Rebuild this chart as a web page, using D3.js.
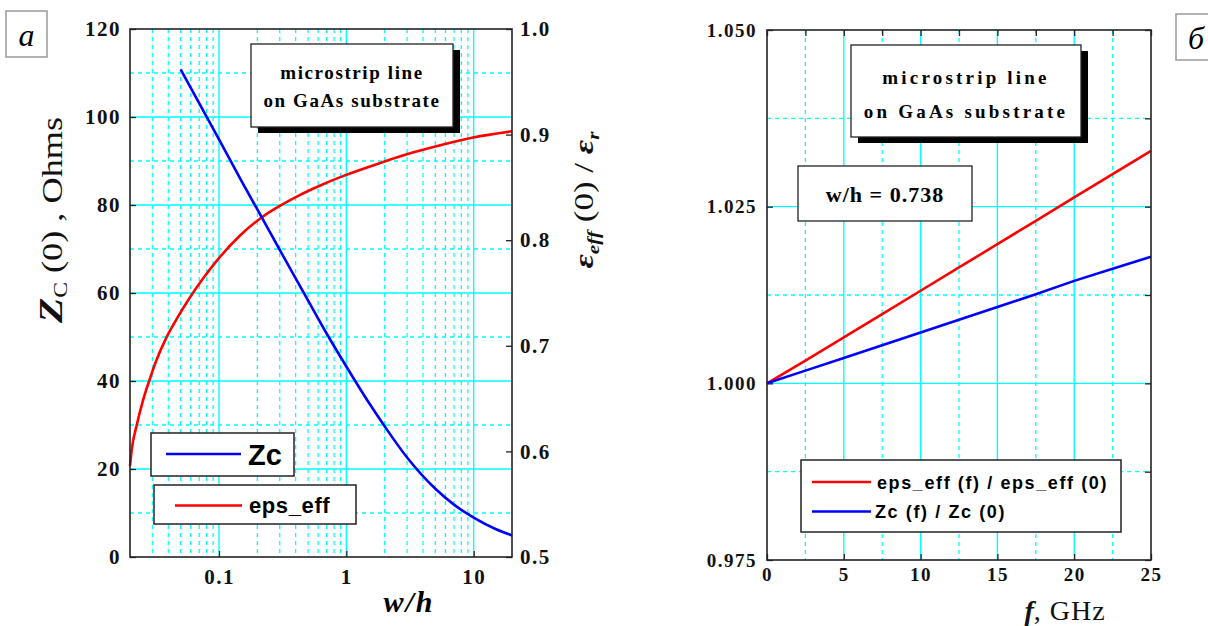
<!DOCTYPE html>
<html>
<head>
<meta charset="utf-8">
<script src="https://cdn.jsdelivr.net/npm/d3@7"></script>
<style>
  body { margin: 0; background: #fff; }
  svg { display: block; }
</style>
</head>
<body>
<svg id="chart" width="1208" height="626"></svg>
<script>
// ---- panel a: Zc(0) and eps_eff(0)/eps_r vs w/h ----
const whZc = [0.05, 0.07, 0.1, 0.15, 0.2, 0.3, 0.4, 0.5, 0.7, 1, 1.5, 2, 3, 5, 7, 10, 15, 20];
const zcValues = [110.8, 103.1, 94.9, 85.5, 79.0, 69.8, 63.3, 58.3, 50.8, 43.3, 35.1, 29.7, 22.6, 15.5, 11.9, 8.95, 6.3, 4.9];
const whEps = [0.02, 0.0206, 0.0226, 0.0254, 0.0287, 0.0323, 0.0387, 0.0463, 0.0589, 0.0727, 0.0952, 0.145, 0.219, 0.3, 0.426, 0.65, 0.986, 1.8, 3.27, 5.96, 9.9, 20];
const epsRatio = [0.586, 0.601, 0.625, 0.649, 0.669, 0.6865, 0.708, 0.725, 0.7455, 0.7616, 0.780, 0.804, 0.822, 0.8324, 0.8425, 0.8528, 0.8616, 0.8727, 0.8827, 0.8912, 0.8973, 0.9031];

const zcTicks = [0, 20, 40, 60, 80, 100, 120];
const zcMinor = [10, 30, 50, 70, 90, 110];
const ratioTicks = [0.5, 0.6, 0.7, 0.8, 0.9, 1.0];
const whTicks = [0.1, 1, 10];
const whMinor = [0.03, 0.04, 0.05, 0.06, 0.07, 0.08, 0.09, 0.2, 0.3, 0.4, 0.5, 0.6, 0.7, 0.8, 0.9, 2, 3, 4, 5, 6, 7, 8, 9];

// ---- panel b: dispersion vs frequency ----
const freq = [0, 2.5, 5, 7.5, 10, 12.5, 15, 17.5, 20, 22.5, 25];
const epsNorm = [1.0, 1.0032, 1.0065, 1.0098, 1.0131, 1.0164, 1.0197, 1.0230, 1.0263, 1.0296, 1.0329];
const zcNorm = [1.0, 1.0018, 1.0036, 1.0054, 1.0072, 1.0090, 1.0108, 1.0126, 1.0145, 1.0162, 1.0179];

const normTicks = [0.975, 1.000, 1.025, 1.050];
const normMinor = [0.9875, 1.0125, 1.0375];
const fTicks = [0, 5, 10, 15, 20, 25];
const fMinor = [2.5, 7.5, 12.5, 17.5, 22.5];

const CYAN = '#00ffff';
const RED = '#ff0000';
const BLUE = '#0000ff';
const SERIF = '"Liberation Serif", "Times New Roman", serif';
const SANS = '"Liberation Sans", Arial, sans-serif';

const svg = d3.select('#chart');

function drawGrid(g, x, y, xMajor, xMinor, yMajor, yMinor) {
    const [x0, x1] = x.range();
    const [y1, y0] = y.range();
    const dash = '4,4';
    g.selectAll(null).data(xMinor).join('line')
        .attr('x1', d => x(d)).attr('x2', d => x(d)).attr('y1', y0).attr('y2', y1)
        .attr('stroke', CYAN).attr('stroke-width', 1.3).attr('stroke-dasharray', dash);
    g.selectAll(null).data(yMinor).join('line')
        .attr('y1', d => y(d)).attr('y2', d => y(d)).attr('x1', x0).attr('x2', x1)
        .attr('stroke', CYAN).attr('stroke-width', 1.3).attr('stroke-dasharray', dash);
    g.selectAll(null).data(xMajor).join('line')
        .attr('x1', d => x(d)).attr('x2', d => x(d)).attr('y1', y0).attr('y2', y1)
        .attr('stroke', CYAN).attr('stroke-width', 1.4);
    g.selectAll(null).data(yMajor).join('line')
        .attr('y1', d => y(d)).attr('y2', d => y(d)).attr('x1', x0).attr('x2', x1)
        .attr('stroke', CYAN).attr('stroke-width', 1.4);
}

function styleAxis(g, size, ls) {
    g.select('.domain').remove();
    g.selectAll('.tick line').attr('stroke', '#222').attr('stroke-width', 1.3);
    g.selectAll('.tick text')
        .attr('fill', '#111')
        .style('font-family', SERIF)
        .style('font-weight', 'bold')
        .style('font-size', size + 'px')
        .style('letter-spacing', ls + 'px');
}

function frame(g, x, y) {
    const [x0, x1] = x.range();
    const [y1, y0] = y.range();
    g.append('rect').attr('x', x0).attr('y', y0).attr('width', x1 - x0).attr('height', y1 - y0)
        .attr('fill', 'none').attr('stroke', '#222').attr('stroke-width', 1.6);
}

function titleBox(g, bx, by, bw, bh, lines, lineYs, size, ls) {
    g.append('rect').attr('x', bx + 7).attr('y', by + 6).attr('width', bw).attr('height', bh).attr('fill', '#000');
    g.append('rect').attr('x', bx).attr('y', by).attr('width', bw).attr('height', bh)
        .attr('fill', '#fff').attr('stroke', '#222').attr('stroke-width', 1.3);
    lines.forEach((t, i) => {
        g.append('text').attr('x', bx + bw / 2).attr('y', lineYs[i])
            .attr('text-anchor', 'middle').attr('dominant-baseline', 'central')
            .style('font-family', SERIF).style('font-weight', 'bold')
            .style('font-size', size + 'px').style('letter-spacing', ls + 'px')
            .text(t);
    });
}

function letterBox(g, bx, by, bw, bh, letter) {
    g.append('rect').attr('x', bx).attr('y', by).attr('width', bw).attr('height', bh)
        .attr('fill', '#fff').attr('stroke', '#999').attr('stroke-width', 1.5);
    g.append('text').attr('x', bx + bw / 2).attr('y', by + bh / 2 + 1)
        .attr('text-anchor', 'middle').attr('dominant-baseline', 'central')
        .style('font-family', SERIF).style('font-style', 'italic').style('font-size', '32px')
        .text(letter);
}

// ================= panel a =================
const ga = svg.append('g');
const xA = d3.scaleLog().domain([0.02, 20]).range([130, 512]);
const yZc = d3.scaleLinear().domain([0, 120]).range([557, 29]);
const yRatio = d3.scaleLinear().domain([0.5, 1.0]).range([557, 29]);

drawGrid(ga, xA, yZc, whTicks, whMinor, zcTicks.slice(1, -1), zcMinor);

ga.append('g').attr('transform', 'translate(130,0)')
    .call(d3.axisLeft(yZc).tickValues(zcTicks).tickSize(-6).tickPadding(9))
    .call(g => styleAxis(g, 21, 1.5));
ga.append('g').attr('transform', 'translate(512,0)')
    .call(d3.axisRight(yRatio).tickValues(ratioTicks).tickSize(-6).tickPadding(8).tickFormat(d3.format('.1f')))
    .call(g => styleAxis(g, 21, 1.5));
ga.append('g').attr('transform', 'translate(0,557)')
    .call(d3.axisBottom(xA).tickValues(whTicks).tickSize(-6).tickPadding(12).tickFormat(d3.format('~g')))
    .call(g => styleAxis(g, 21, 1.5));

const lineZc = d3.line().x((d, i) => xA(whZc[i])).y(d => yZc(d)).curve(d3.curveMonotoneX);
const lineEps = d3.line().x((d, i) => xA(whEps[i])).y(d => yRatio(d)).curve(d3.curveMonotoneX);
ga.append('path').datum(epsRatio).attr('d', lineEps).attr('fill', 'none').attr('stroke', RED).attr('stroke-width', 2.6);
ga.append('path').datum(zcValues).attr('d', lineZc).attr('fill', 'none').attr('stroke', BLUE).attr('stroke-width', 2.6);

frame(ga, xA, yZc);

titleBox(ga, 251, 44, 202, 83, ['microstrip line', 'on GaAs substrate'], [72, 100], 19, 1.6);

// legend boxes
ga.append('rect').attr('x', 151).attr('y', 433).attr('width', 143).attr('height', 43)
    .attr('fill', '#fff').attr('stroke', '#222').attr('stroke-width', 1.5);
ga.append('line').attr('x1', 166).attr('x2', 241).attr('y1', 454).attr('y2', 454).attr('stroke', BLUE).attr('stroke-width', 2.6);
ga.append('text').attr('x', 248).attr('y', 465).style('font-family', SANS).style('font-weight', 'bold')
    .style('font-size', '29px').text('Zc');
ga.append('rect').attr('x', 154).attr('y', 485).attr('width', 202).attr('height', 39)
    .attr('fill', '#fff').attr('stroke', '#222').attr('stroke-width', 1.5);
ga.append('line').attr('x1', 175).attr('x2', 242).attr('y1', 505.5).attr('y2', 505.5).attr('stroke', RED).attr('stroke-width', 2.6);
ga.append('text').attr('x', 249).attr('y', 513).style('font-family', SANS).style('font-weight', 'bold')
    .style('font-size', '22px').style('letter-spacing', '0.6px').text('eps_eff');

letterBox(ga, 6, 11, 41, 46, 'а');

// axis titles
const yLabA = ga.append('text').attr('transform', 'translate(62,220) rotate(-90) scale(1.25,1)')
    .attr('text-anchor', 'middle').style('font-family', SERIF).attr('fill', '#111');
yLabA.append('tspan').style('font-weight', 'bold').style('font-style', 'italic').style('font-size', '33px').text('Z');
yLabA.append('tspan').style('font-size', '19px').attr('dy', 5).text('C');
yLabA.append('tspan').style('font-size', '29px').attr('dy', -5).text(' (0) , Ohms');

const yLabA2 = ga.append('text').attr('transform', 'translate(593,200) rotate(-90) scale(1.25,1)')
    .attr('text-anchor', 'middle').style('font-family', SERIF).attr('fill', '#111');
yLabA2.append('tspan').style('font-weight', 'bold').style('font-style', 'italic').style('font-size', '28px').text('ε');
yLabA2.append('tspan').style('font-weight', 'bold').style('font-style', 'italic').style('font-size', '17px').attr('dy', 6).text('eff');
yLabA2.append('tspan').style('font-size', '28px').attr('dy', -6).text(' (0) / ');
yLabA2.append('tspan').style('font-weight', 'bold').style('font-style', 'italic').style('font-size', '28px').text('ε');
yLabA2.append('tspan').style('font-weight', 'bold').style('font-style', 'italic').style('font-size', '17px').attr('dy', 6).text('r');

ga.append('text').attr('x', 409).attr('y', 612).attr('text-anchor', 'middle')
    .style('font-family', SERIF).style('font-weight', 'bold').style('font-style', 'italic')
    .style('font-size', '30px').style('letter-spacing', '2px').text('w/h');

// ================= panel b =================
const gb = svg.append('g');
const xB = d3.scaleLinear().domain([0, 25]).range([767, 1151]);
const yB = d3.scaleLinear().domain([0.975, 1.050]).range([560, 30]);

drawGrid(gb, xB, yB, fTicks.slice(1, -1), fMinor, normTicks.slice(1, -1), normMinor);

gb.append('g').attr('transform', 'translate(767,0)')
    .call(d3.axisLeft(yB).tickValues(normTicks).tickSize(-6).tickPadding(10).tickFormat(d3.format('.3f')))
    .call(g => styleAxis(g, 19, 1.5));
gb.append('g').attr('transform', 'translate(1151,0)')
    .call(d3.axisRight(yB).tickValues(normTicks.concat(normMinor)).tickSize(-6).tickFormat(''))
    .call(g => styleAxis(g, 19, 1.5));
gb.append('g').attr('transform', 'translate(0,560)')
    .call(d3.axisBottom(xB).tickValues(fTicks).tickSize(-6).tickPadding(8))
    .call(g => styleAxis(g, 19, 1.5));
gb.append('g').attr('transform', 'translate(0,30)')
    .call(d3.axisTop(xB).tickValues(fTicks.concat(fMinor)).tickSize(-6).tickFormat(''))
    .call(g => styleAxis(g, 19, 1.5));

const lineB = ys => d3.line().x((d, i) => xB(freq[i])).y(d => yB(d))(ys);
gb.append('path').attr('d', lineB(epsNorm)).attr('fill', 'none').attr('stroke', RED).attr('stroke-width', 2.6);
gb.append('path').attr('d', lineB(zcNorm)).attr('fill', 'none').attr('stroke', BLUE).attr('stroke-width', 2.6);

frame(gb, xB, yB);

titleBox(gb, 851, 45, 230, 92, ['microstrip line', 'on GaAs substrate'], [77, 111], 19, 3.2);

gb.append('rect').attr('x', 798).attr('y', 166).attr('width', 174).attr('height', 55)
    .attr('fill', '#fff').attr('stroke', '#222').attr('stroke-width', 1.3);
gb.append('text').attr('x', 885).attr('y', 194).attr('text-anchor', 'middle').attr('dominant-baseline', 'central')
    .style('font-family', SERIF).style('font-weight', 'bold').style('font-size', '22px').style('letter-spacing', '1px')
    .text('w/h = 0.738');

gb.append('rect').attr('x', 801).attr('y', 460).attr('width', 320).attr('height', 72)
    .attr('fill', '#fff').attr('stroke', '#222').attr('stroke-width', 1.5);
gb.append('line').attr('x1', 812).attr('x2', 871).attr('y1', 482).attr('y2', 482).attr('stroke', RED).attr('stroke-width', 2.6);
gb.append('line').attr('x1', 812).attr('x2', 871).attr('y1', 511.5).attr('y2', 511.5).attr('stroke', BLUE).attr('stroke-width', 2.6);
gb.append('text').attr('x', 877).attr('y', 488.5).style('font-family', SANS).style('font-weight', 'bold')
    .style('font-size', '18px').style('letter-spacing', '1.6px').text('eps_eff (f) / eps_eff (0)');
gb.append('text').attr('x', 875).attr('y', 518).style('font-family', SANS).style('font-weight', 'bold')
    .style('font-size', '18px').style('letter-spacing', '1.6px').text('Zc (f) / Zc (0)');

letterBox(gb, 1176, 14, 40, 46, 'б');

const xLabB = gb.append('text').attr('x', 1065).attr('y', 620).attr('text-anchor', 'middle')
    .style('font-family', SERIF).style('font-size', '28px').attr('fill', '#111');
xLabB.append('tspan').style('font-weight', 'bold').style('font-style', 'italic').text('f');
xLabB.append('tspan').style('letter-spacing', '1px').text(', GHz');
</script>
</body>
</html>
